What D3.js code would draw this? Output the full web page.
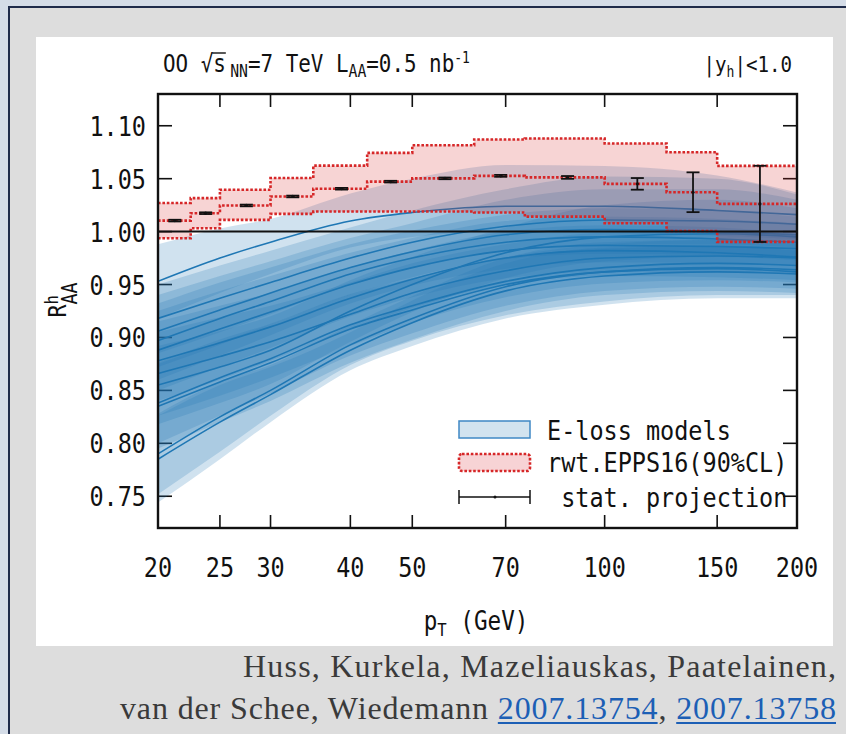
<!DOCTYPE html>
<html>
<head>
<meta charset="utf-8">
<script src="https://d3js.org/d3.v7.min.js"></script>
<style>
  body { margin: 0; background: #d4dce7; }
  svg { display: block; }
</style>
</head>
<body>
<svg id="chart" width="846" height="734"></svg>
<script>
var ptGrid = [20, 25, 30, 40, 50, 70, 100, 150, 200];

//E-loss models: central curves (one row per model)
var eLossMid = [
  [0.953, 0.975, 0.990, 1.010, 1.018, 1.024, 1.024, 1.020, 1.016],
  [0.918, 0.937, 0.952, 0.975, 0.990, 1.005, 1.011, 1.010, 1.007],
  [0.906, 0.926, 0.942, 0.966, 0.981, 0.997, 1.002, 1.000, 0.997],
  [0.897, 0.918, 0.934, 0.960, 0.975, 0.990, 0.995, 0.993, 0.990],
  [0.888, 0.908, 0.924, 0.950, 0.966, 0.982, 0.987, 0.986, 0.984],
  [0.878, 0.895, 0.910, 0.937, 0.955, 0.975, 0.982, 0.980, 0.976],
  [0.866, 0.882, 0.896, 0.922, 0.942, 0.963, 0.975, 0.977, 0.975],
  [0.855, 0.872, 0.888, 0.925, 0.950, 0.980, 0.995, 0.998, 0.995],
  [0.838, 0.862, 0.880, 0.912, 0.930, 0.953, 0.966, 0.970, 0.968],
  [0.835, 0.858, 0.876, 0.908, 0.926, 0.950, 0.962, 0.965, 0.962],
  [0.790, 0.825, 0.850, 0.893, 0.918, 0.948, 0.962, 0.966, 0.964],
  [0.785, 0.820, 0.846, 0.888, 0.914, 0.944, 0.958, 0.962, 0.960]
];
//lower band edges
var eLossLow = [
  [0.918, 0.942, 0.960, 0.985, 0.995, 1.000, 0.999, 0.996, 0.993],
  [0.885, 0.905, 0.922, 0.950, 0.966, 0.982, 0.988, 0.988, 0.985],
  [0.872, 0.893, 0.912, 0.940, 0.957, 0.974, 0.979, 0.978, 0.975],
  [0.860, 0.883, 0.902, 0.932, 0.949, 0.965, 0.971, 0.970, 0.968],
  [0.850, 0.872, 0.890, 0.920, 0.938, 0.956, 0.962, 0.962, 0.960],
  [0.840, 0.860, 0.878, 0.908, 0.928, 0.950, 0.958, 0.957, 0.954],
  [0.826, 0.845, 0.862, 0.892, 0.914, 0.938, 0.951, 0.954, 0.952],
  [0.818, 0.838, 0.856, 0.896, 0.924, 0.956, 0.972, 0.976, 0.973],
  [0.800, 0.826, 0.847, 0.883, 0.904, 0.930, 0.944, 0.948, 0.946],
  [0.795, 0.820, 0.840, 0.876, 0.898, 0.925, 0.940, 0.944, 0.942],
  [0.752, 0.792, 0.826, 0.874, 0.897, 0.921, 0.934, 0.940, 0.940],
  [0.744, 0.785, 0.820, 0.869, 0.892, 0.918, 0.931, 0.937, 0.937]
];
//upper band edges
var eLossHigh = [
  [0.988, 1.003, 1.012, 1.036, 1.050, 1.063, 1.062, 1.053, 1.037],
  [0.950, 0.968, 0.982, 1.004, 1.020, 1.040, 1.052, 1.050, 1.035],
  [0.940, 0.958, 0.972, 0.994, 1.008, 1.030, 1.040, 1.040, 1.030],
  [0.932, 0.952, 0.966, 0.988, 1.001, 1.016, 1.022, 1.020, 1.014],
  [0.925, 0.944, 0.958, 0.980, 0.994, 1.010, 1.014, 1.012, 1.008],
  [0.915, 0.930, 0.942, 0.966, 0.982, 1.000, 1.006, 1.004, 0.998],
  [0.905, 0.919, 0.930, 0.952, 0.970, 0.988, 0.999, 1.000, 0.998],
  [0.892, 0.906, 0.920, 0.954, 0.976, 1.004, 1.025, 1.030, 1.022],
  [0.876, 0.898, 0.913, 0.941, 0.956, 0.976, 0.988, 0.992, 0.990],
  [0.875, 0.896, 0.912, 0.940, 0.954, 0.975, 0.984, 0.986, 0.982],
  [0.828, 0.858, 0.874, 0.912, 0.939, 0.975, 0.990, 0.992, 0.988],
  [0.826, 0.855, 0.872, 0.905, 0.935, 0.970, 0.985, 0.987, 0.983]
];

//rwt.EPPS16 bins (edges) and the 90%CL band per bin
var binEdges = [20, 22.5, 25, 30, 35, 42.5, 50, 62.5, 75, 100, 125, 150, 200];
var eppsLow  = [0.9937, 1.0032, 1.0111, 1.0168, 1.0190, 1.0190, 1.0190, 1.0180, 1.0142, 1.0079, 1.0006, 0.9903];
var eppsMid  = [1.0104, 1.0174, 1.0247, 1.0332, 1.0405, 1.0472, 1.0503, 1.0527, 1.0512, 1.0451, 1.0372, 1.0262];
var eppsHigh = [1.0270, 1.0316, 1.0396, 1.0506, 1.0623, 1.0744, 1.0816, 1.0870, 1.0880, 1.0832, 1.0750, 1.0621];

//stat. projection points (bin centres)
var statPt  = [21.25, 23.75, 27.5, 32.5, 38.75, 46.25, 56.25, 68.75, 87.5, 112.5, 137.5, 175];
var statErr = [0.0008, 0.0008, 0.0008, 0.0008, 0.0008, 0.0008, 0.0008, 0.0009, 0.0013, 0.0055, 0.0188, 0.0360];

//axis ticks
var xTicks = [20, 25, 30, 40, 50, 70, 100, 150, 200];
var yTicks = [0.75, 0.80, 0.85, 0.90, 0.95, 1.00, 1.05, 1.10];

var monoFont = "'DejaVu Sans Mono', monospace";
var serifFont = "'Liberation Serif', 'Times New Roman', serif";
var blue = "#1f77b4";
var red = "#d62728";

var svg = d3.select("#chart");

//Slide background and frame
svg.append("rect").attr("width", 846).attr("height", 734).attr("fill", "#d4dce7");
svg.append("rect").attr("x", 9).attr("y", 7).attr("width", 900).attr("height", 900)
    .attr("fill", "#dddddd").attr("stroke", "#1e2b4a").attr("stroke-width", 2);
svg.append("rect").attr("x", 36).attr("y", 37).attr("width", 797).attr("height", 609).attr("fill", "#ffffff");

//Scales
var x = d3.scaleLog().domain([20, 200]).range([158, 797]);
var y = d3.scaleLinear().domain([0.72, 1.13]).range([528, 94]);

svg.append("clipPath").attr("id", "plotclip")
    .append("rect").attr("x", 158).attr("y", 94).attr("width", 639).attr("height", 434);

//Helper for the narrow mono text used throughout the figure
function monoText(parent, px, py, size, anchor) {
  var g = parent.append("g").attr("transform", "translate(" + px + "," + py + ") scale(0.87,1)");
  var t = g.append("text")
      .attr("font-family", monoFont)
      .attr("font-size", size)
      .attr("text-anchor", anchor || "start")
      .attr("fill", "#111");
  return t;
}

//Inner ticks on all four sides
var ticks = svg.append("g").attr("stroke", "#111").attr("stroke-width", 1.6);
ticks.selectAll("line.xb").data(xTicks).enter().append("line")
    .attr("x1", function(d) { return x(d); }).attr("x2", function(d) { return x(d); })
    .attr("y1", 528).attr("y2", 515);
ticks.selectAll("line.xt").data(xTicks).enter().append("line")
    .attr("x1", function(d) { return x(d); }).attr("x2", function(d) { return x(d); })
    .attr("y1", 94).attr("y2", 107);
ticks.selectAll("line.yl").data(yTicks).enter().append("line")
    .attr("x1", 158).attr("x2", 172)
    .attr("y1", function(d) { return y(d); }).attr("y2", function(d) { return y(d); });
ticks.selectAll("line.yr").data(yTicks).enter().append("line")
    .attr("x1", 783).attr("x2", 797)
    .attr("y1", function(d) { return y(d); }).attr("y2", function(d) { return y(d); });

var plot = svg.append("g").attr("clip-path", "url(#plotclip)");

//E-loss model bands and central lines
var models = eLossMid.map(function(row, i) {
  return ptGrid.map(function(p, j) {
    return { pt: p, mid: row[j], lo: eLossLow[i][j], hi: eLossHigh[i][j] };
  });
});

var band = d3.area()
    .x(function(d) { return x(d.pt); })
    .y0(function(d) { return y(d.lo); })
    .y1(function(d) { return y(d.hi); })
    .curve(d3.curveMonotoneX);
var centre = d3.line()
    .x(function(d) { return x(d.pt); })
    .y(function(d) { return y(d.mid); })
    .curve(d3.curveMonotoneX);

plot.selectAll("path.band").data(models).enter().append("path")
    .attr("class", "band").attr("d", band)
    .attr("fill", blue).attr("fill-opacity", 0.21);
plot.selectAll("path.centre").data(models).enter().append("path")
    .attr("class", "centre").attr("d", centre)
    .attr("fill", "none").attr("stroke", blue).attr("stroke-width", 1.6);

//EPPS16 step band
var steps = binEdges.map(function(e, i) {
  var k = Math.min(i, eppsMid.length - 1);
  return { pt: e, lo: eppsLow[k], mid: eppsMid[k], hi: eppsHigh[k] };
});
var stepArea = d3.area()
    .x(function(d) { return x(d.pt); })
    .y0(function(d) { return y(d.lo); })
    .y1(function(d) { return y(d.hi); })
    .curve(d3.curveStepAfter);
plot.append("path").datum(steps).attr("d", stepArea)
    .attr("fill", red).attr("fill-opacity", 0.2);

["lo", "mid", "hi"].forEach(function(key) {
  var stepLine = d3.line()
      .x(function(d) { return x(d.pt); })
      .y(function(d) { return y(d[key]); })
      .curve(d3.curveStepAfter);
  plot.append("path").datum(steps).attr("d", stepLine)
      .attr("fill", "none").attr("stroke", red)
      .attr("stroke-width", 2.6).attr("stroke-dasharray", "2.6 1.8");
});

//Unity line
plot.append("line").attr("x1", 158).attr("x2", 797)
    .attr("y1", y(1)).attr("y2", y(1))
    .attr("stroke", "#111").attr("stroke-width", 2);

//Stat. projection error bars
var stat = statPt.map(function(p, i) { return { pt: p, v: eppsMid[i], e: statErr[i] }; });
var bars = svg.append("g").attr("stroke", "#111").attr("stroke-width", 1.8);
bars.selectAll("line.v").data(stat).enter().append("line")
    .attr("x1", function(d) { return x(d.pt); }).attr("x2", function(d) { return x(d.pt); })
    .attr("y1", function(d) { return y(d.v - d.e); }).attr("y2", function(d) { return y(d.v + d.e); });
bars.selectAll("line.top").data(stat).enter().append("line")
    .attr("x1", function(d) { return x(d.pt) - 6.5; }).attr("x2", function(d) { return x(d.pt) + 6.5; })
    .attr("y1", function(d) { return y(d.v + d.e); }).attr("y2", function(d) { return y(d.v + d.e); });
bars.selectAll("line.bot").data(stat).enter().append("line")
    .attr("x1", function(d) { return x(d.pt) - 6.5; }).attr("x2", function(d) { return x(d.pt) + 6.5; })
    .attr("y1", function(d) { return y(d.v - d.e); }).attr("y2", function(d) { return y(d.v - d.e); });
svg.selectAll("circle.pt").data(stat).enter().append("circle")
    .attr("cx", function(d) { return x(d.pt); }).attr("cy", function(d) { return y(d.v); })
    .attr("r", 1.6).attr("fill", "#111");

//Frame
svg.append("rect").attr("x", 158).attr("y", 94).attr("width", 639).attr("height", 434)
    .attr("fill", "none").attr("stroke", "#111").attr("stroke-width", 2.4);

//Tick labels
xTicks.forEach(function(d) {
  monoText(svg, x(d), 577, 27, "middle").text(String(d));
});
yTicks.forEach(function(d) {
  monoText(svg, 146, y(d) + 10, 27, "end").text(d.toFixed(2));
});

//Axis titles
var xt = monoText(svg, 476, 630, 26, "middle");
xt.append("tspan").text("p");
xt.append("tspan").attr("font-size", 18).attr("dy", 6).text("T");
xt.append("tspan").attr("dy", -6).text(" (GeV)");

var ytG = svg.append("g").attr("transform", "translate(66,300) rotate(-90) scale(0.87,1)");
var yt = ytG.append("text").attr("font-family", monoFont).attr("font-size", 25)
    .attr("text-anchor", "middle").attr("fill", "#111");
yt.append("tspan").text("R");
yt.append("tspan").attr("font-size", 18).attr("dy", -8).text("h");
yt.append("tspan").attr("font-size", 21).attr("dx", -10.8).attr("dy", 19).text("AA");

//Header line
var head = monoText(svg, 163, 72, 24, "start");
head.append("tspan").text("OO √s");
head.append("tspan").attr("font-size", 17).attr("dx", 5).attr("dy", 5).text("NN");
head.append("tspan").attr("dy", -5).text("=7 TeV L");
head.append("tspan").attr("font-size", 17).attr("dy", 5).text("AA");
head.append("tspan").attr("dy", -5).text("=0.5 nb");
head.append("tspan").attr("font-size", 15).attr("dy", -9).text("-1");
//overline of the square root
var sBox = head.node().getExtentOfChar(4);
d3.select(head.node().parentNode).append("line")
    .attr("x1", sBox.x - 1).attr("x2", sBox.x + sBox.width)
    .attr("y1", -19).attr("y2", -19)
    .attr("stroke", "#111").attr("stroke-width", 1.4);

var rap = monoText(svg, 792, 72, 22, "end");
rap.append("tspan").text("|y");
rap.append("tspan").attr("font-size", 15).attr("dy", 5).text("h");
rap.append("tspan").attr("dy", -5).text("|<1.0");

//Legend
var legend = svg.append("g");
legend.append("rect").attr("x", 459).attr("y", 421).attr("width", 71).attr("height", 17)
    .attr("fill", "#d2e3ef").attr("stroke", "#3f88c5").attr("stroke-width", 1.5);
legend.append("rect").attr("x", 459).attr("y", 454).attr("width", 71).attr("height", 17).attr("rx", 3)
    .attr("fill", "#f7d3d5").attr("stroke", red).attr("stroke-width", 2.6).attr("stroke-dasharray", "2.6 1.8");
legend.append("line").attr("x1", 459).attr("x2", 530).attr("y1", 497).attr("y2", 497)
    .attr("stroke", "#111").attr("stroke-width", 1.5);
legend.append("line").attr("x1", 459).attr("x2", 459).attr("y1", 490).attr("y2", 504)
    .attr("stroke", "#111").attr("stroke-width", 1.5);
legend.append("line").attr("x1", 530).attr("x2", 530).attr("y1", 490).attr("y2", 504)
    .attr("stroke", "#111").attr("stroke-width", 1.5);
legend.append("circle").attr("cx", 495).attr("cy", 497).attr("r", 1.5).attr("fill", "#111");

var legendLabels = ["E-loss models", "rwt.EPPS16(90%CL)", " stat. projection"];
var legendBase = [440, 472, 507];
legendLabels.forEach(function(s, i) {
  monoText(legend, 547, legendBase[i], 27, "start").attr("xml:space", "preserve").text(s);
});

//Citation
var cite1 = svg.append("text").attr("x", 836).attr("y", 677)
    .attr("font-family", serifFont).attr("font-size", 32).attr("text-anchor", "end")
    .attr("fill", "#3a3a3a").attr("textLength", 593)
    .text("Huss, Kurkela, Mazeliauskas, Paatelainen,");

var citeParts = ["van der Schee, Wiedemann ", "2007.13754", ", ", "2007.13758"];
var citeLink = [false, true, false, true];
var cite2 = svg.append("text").attr("x", 836).attr("y", 719)
    .attr("font-family", serifFont).attr("font-size", 32).attr("text-anchor", "end")
    .attr("textLength", 716).attr("xml:space", "preserve");
citeParts.forEach(function(s, i) {
  cite2.append("tspan").attr("fill", citeLink[i] ? "#1c5fb5" : "#3a3a3a").text(s);
});
//underline the arXiv links
var charPos = 0;
citeParts.forEach(function(s, i) {
  if (citeLink[i]) {
    var a = cite2.node().getExtentOfChar(charPos);
    var b = cite2.node().getExtentOfChar(charPos + s.length - 1);
    svg.append("line").attr("x1", a.x).attr("x2", b.x + b.width)
        .attr("y1", 723).attr("y2", 723)
        .attr("stroke", "#1c5fb5").attr("stroke-width", 2.2);
  }
  charPos += s.length;
});
</script>
</body>
</html>
